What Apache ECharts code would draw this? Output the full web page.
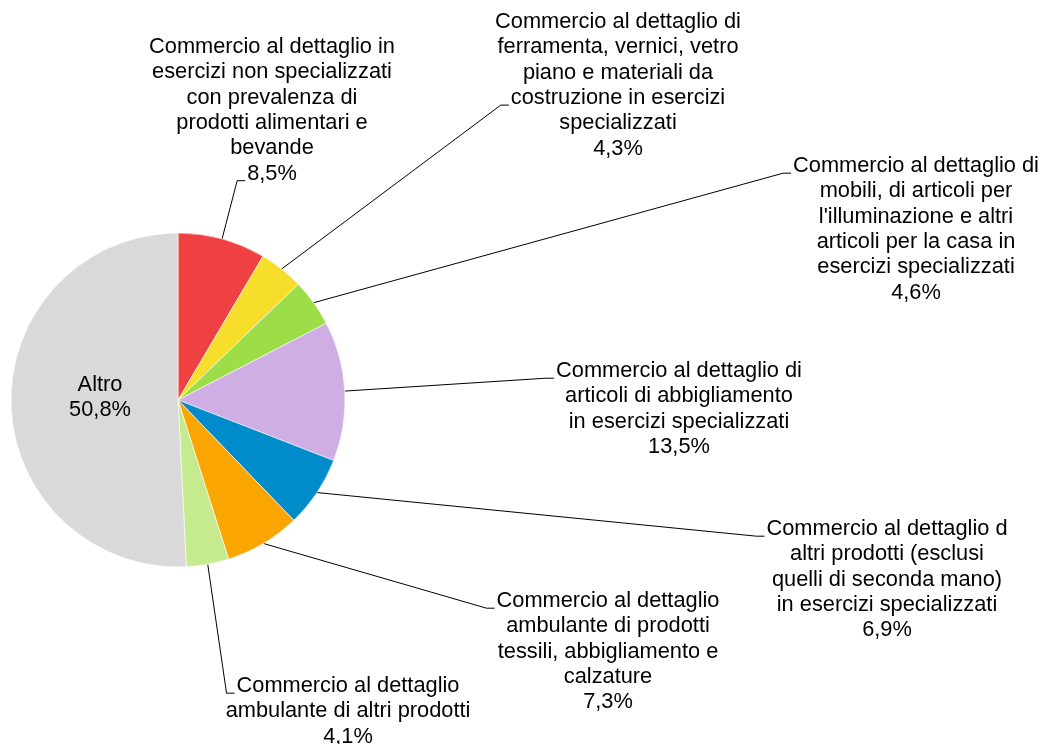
<!DOCTYPE html>
<html>
<head>
<meta charset="utf-8">
<title>Commercio al dettaglio</title>
<script src="https://cdn.jsdelivr.net/npm/echarts@6/dist/echarts.min.js"></script>
<style>
  html, body { margin: 0; padding: 0; background: #ffffff; }
  #chart { width: 1043px; height: 744px; }
</style>
</head>
<body>
<div id="chart"></div>
<script>
// Categories (line breaks are the wrapped label text)
const categories = [
  'Commercio al dettaglio in\nesercizi non specializzati\ncon prevalenza di\nprodotti alimentari e\nbevande',
  'Commercio al dettaglio di\nferramenta, vernici, vetro\npiano e materiali da\ncostruzione in esercizi\nspecializzati',
  'Commercio al dettaglio di\nmobili, di articoli per\nl\'illuminazione e altri\narticoli per la casa in\nesercizi specializzati',
  'Commercio al dettaglio di\narticoli di abbigliamento\nin esercizi specializzati',
  'Commercio al dettaglio d\naltri prodotti (esclusi\nquelli di seconda mano)\nin esercizi specializzati',
  'Commercio al dettaglio\nambulante di prodotti\ntessili, abbigliamento e\ncalzature',
  'Commercio al dettaglio\nambulante di altri prodotti',
  'Altro'
];

// Shares in percent
const shares = [8.5, 4.3, 4.6, 13.5, 6.9, 7.3, 4.1, 50.8];

const sliceColors = ['#EF4042', '#F7DE2B', '#9DDE48', '#CFADE5', '#008CCB', '#FAA500', '#C6EB8F', '#D9D9D9'];

// Label placement: centre x, centre y of first text line, text line the leader attaches to
const labelPlacement = [
  { x: 272, y: 47, line: 5 },
  { x: 618, y: 22, line: 3 },
  { x: 916, y: 166, line: 0 },
  { x: 679, y: 371, line: 0 },
  { x: 887, y: 529, line: 0 },
  { x: 608, y: 601, line: 0 },
  { x: 348, y: 686, line: 0 },
  { x: 100, y: 385, line: -1 }
];

const FONT_FAMILY = '"Liberation Sans", Arial, Helvetica, sans-serif';
const FONT_SIZE = 21.8;
const LINE_H = 25.3;

const measureCtx = document.createElement('canvas').getContext('2d');
measureCtx.font = FONT_SIZE + 'px ' + FONT_FAMILY;

function fmtPct(v) {
  return v.toFixed(1).replace('.', ',') + '%';
}

const pieData = categories.map(function (name, i) {
  const item = { name: name, value: shares[i], itemStyle: { color: sliceColors[i] } };
  if (i === categories.length - 1) {
    item.label = { position: 'inside' };
    item.labelLine = { show: false };
  }
  return item;
});

const chart = echarts.init(document.getElementById('chart'), null, { renderer: 'canvas' });

chart.setOption({
  backgroundColor: '#ffffff',
  animation: false,
  series: [{
    type: 'pie',
    center: [178, 400],
    radius: 167,
    startAngle: 90,
    clockwise: true,
    avoidLabelOverlap: false,
    data: pieData,
    itemStyle: { borderColor: '#ffffff', borderWidth: 0.6 },
    label: {
      show: true,
      position: 'outside',
      formatter: function (p) { return p.name + '\n' + fmtPct(p.value); },
      color: '#000000',
      fontFamily: FONT_FAMILY,
      fontSize: FONT_SIZE,
      lineHeight: LINE_H,
      align: 'center'
    },
    labelLine: {
      show: true,
      length: 20,
      length2: 10,
      smooth: false,
      lineStyle: { color: '#000000', width: 1 }
    },
    emphasis: { disabled: true },
    labelLayout: function (p) {
      const pl = labelPlacement[p.dataIndex];
      if (!pl) return {};
      const out = { x: pl.x, y: pl.y - LINE_H / 2, align: 'center', verticalAlign: 'top' };
      if (pl.line >= 0 && p.labelLinePoints && p.labelLinePoints.length) {
        const lines = p.text.split('\n');
        const w = measureCtx.measureText(lines[pl.line]).width;
        const left = pl.x - w / 2;
        const baseY = pl.y + pl.line * LINE_H + 0.33 * FONT_SIZE;
        out.labelLinePoints = [
          p.labelLinePoints[0],
          [left - 10, baseY],
          [left - 2, baseY]
        ];
      }
      return out;
    }
  }]
});
</script>
</body>
</html>
